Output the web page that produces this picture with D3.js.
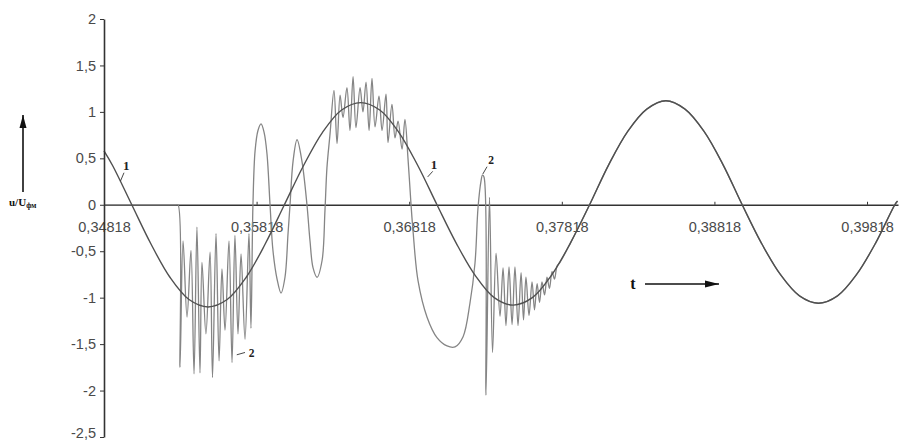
<!DOCTYPE html>
<html>
<head>
<meta charset="utf-8">
<script src="https://cdn.jsdelivr.net/npm/d3@7"></script>
<style>
  html, body { margin: 0; padding: 0; background: #ffffff; }
  svg { display: block; }
</style>
</head>
<body>
<svg id="chart" width="905" height="441"></svg>
<script>
// ---------------- data ----------------
const xTickValues = [0.34818, 0.35818, 0.36818, 0.37818, 0.38818, 0.39818];
const xTickLabels = ["0,34818", "0,35818", "0,36818", "0,37818", "0,38818", "0,39818"];
const yTickValues = [2, 1.5, 1, 0.5, 0, -0.5, -1, -1.5, -2, -2.5];
const yTickLabels = ["2", "1,5", "1", "0,5", "0", "-0,5", "-1", "-1,5", "-2", "-2,5"];

// curve 1 (sinusoid)
const curve1T = [0.34818, 0.34875, 0.35, 0.35125, 0.3525, 0.35375, 0.355, 0.35625, 0.3575, 0.35875,
  0.36, 0.36125, 0.3625, 0.36375, 0.365, 0.36625, 0.3675, 0.36875,
  0.37, 0.37125, 0.3725, 0.37375, 0.375, 0.37625, 0.3775, 0.37875,
  0.38, 0.38125, 0.3825, 0.38375, 0.385, 0.38625, 0.3875, 0.38875,
  0.39, 0.39125, 0.3925, 0.39375, 0.395, 0.39625, 0.3975, 0.39875, 0.4, 0.40018];
const curve1V = [0.58, 0.42, 0, -0.42, -0.78, -1.02, -1.10, -1.02, -0.78, -0.42,
  0, 0.42, 0.78, 1.02, 1.10, 1.02, 0.78, 0.42,
  0, -0.41, -0.76, -1.00, -1.08, -1.00, -0.76, -0.41,
  0, 0.43, 0.79, 1.03, 1.12, 1.03, 0.79, 0.43,
  0, -0.41, -0.75, -0.98, -1.06, -0.98, -0.75, -0.41, 0, 0.04];

// curve 2 (transient) until it merges with curve 1
const curve2T = [0.34818, 0.35290, 0.35303, 0.35316, 0.35336, 0.35362, 0.35388, 0.35408, 0.35427, 0.35447,
  0.35460, 0.35486, 0.35513, 0.35529, 0.35552, 0.35572, 0.35591, 0.35611, 0.35637, 0.35657,
  0.35676, 0.35696, 0.35716, 0.35742, 0.35768, 0.35781, 0.35794, 0.35808, 0.35827, 0.35847,
  0.35867, 0.35886, 0.35906, 0.35925, 0.35952, 0.35978, 0.36004, 0.36024, 0.36037, 0.36057,
  0.36083, 0.36115, 0.36148, 0.36168, 0.36188, 0.36214, 0.36247, 0.36266, 0.36279, 0.36299,
  0.36325, 0.36345, 0.36365, 0.36384, 0.36410, 0.36430, 0.36450, 0.36469, 0.36496, 0.36515,
  0.36535, 0.36555, 0.36574, 0.36594, 0.36620, 0.36640, 0.36666, 0.36679, 0.36705, 0.36725,
  0.36745, 0.36771, 0.36790, 0.36810, 0.36830, 0.36843, 0.36876, 0.36935, 0.37000, 0.37066,
  0.37118, 0.37171, 0.37216, 0.37249, 0.37269, 0.37289, 0.37298, 0.37308, 0.37321, 0.37344,
  0.37364, 0.37387, 0.37413, 0.37433, 0.37452, 0.37472, 0.37492, 0.37511, 0.37531, 0.37551,
  0.37567, 0.37583, 0.37603, 0.37623, 0.37639, 0.37656, 0.37672, 0.37688, 0.37705, 0.37721,
  0.37737, 0.37754, 0.37770, 0.37787, 0.37806];
const curve2V = [0, 0, 0, -1.75, -0.39, -1.21, -0.49, -1.82, -0.24, -1.81,
  -0.62, -1.39, -0.51, -1.86, -0.31, -1.68, -0.69, -1.35, -0.39, -1.70,
  -0.33, -1.39, -0.53, -1.45, -0.31, -1.33, 0.00, 0.58, 0.80, 0.87,
  0.78, 0.55, 0.00, -0.49, -0.80, -0.95, -0.78, -0.31, 0.00, 0.47,
  0.70, 0.47, 0.00, -0.39, -0.68, -0.78, -0.60, -0.06, 0.40, 0.76,
  1.23, 0.66, 1.18, 0.94, 1.26, 0.80, 1.38, 0.83, 1.26, 1.00,
  1.32, 0.80, 1.36, 0.84, 1.17, 0.80, 1.19, 0.67, 1.08, 0.72,
  0.90, 0.60, 0.92, 0.50, 0.00, -0.28, -0.82, -1.21, -1.43, -1.52,
  -1.53, -1.42, -1.06, -0.63, -0.03, 0.26, 0.32, 0.30, -2.05, 0.08,
  -1.59, -0.52, -1.20, -0.68, -1.30, -0.67, -1.29, -0.67, -1.30, -0.73,
  -1.24, -0.78, -1.19, -0.83, -1.13, -0.85, -1.05, -0.83, -0.97, -0.78,
  -0.90, -0.72, -0.80, -0.66, -0.62];

// ---------------- drawing ----------------
const svg = d3.select("#chart");
const x = d3.scaleLinear().domain([0.34818, 0.40021]).range([104, 898]);
const y = d3.scaleLinear().domain([-2.5, 2]).range([437, 19]);

const axisColor = "#333";
const textColor = "#4a4a4a";
const sansFont = "'Liberation Sans', Arial, sans-serif";
const serifFont = "'Liberation Serif', 'Times New Roman', serif";

// curves
const c1 = curve1T.map((t, i) => [t, curve1V[i]]);
const c2 = curve2T.map((t, i) => [t, curve2V[i]])
  .concat(c1.filter(d => d[0] > curve2T[curve2T.length - 1] + 0.0003));

const line = d3.line()
  .x(d => x(d[0]))
  .y(d => y(d[1]))
  .curve(d3.curveCatmullRom.alpha(0.5));

// X axis at v = 0
const gx = svg.append("g")
  .attr("transform", `translate(0,${y(0)})`)
  .call(d3.axisBottom(x)
    .tickValues(xTickValues)
    .tickFormat((d, i) => xTickLabels[i])
    .tickSizeInner(-3)
    .tickSizeOuter(0)
    .tickPadding(17));
gx.select(".domain").attr("stroke", axisColor).attr("stroke-width", 1.6);
gx.selectAll(".tick line").attr("stroke", axisColor).attr("stroke-width", 1);
gx.selectAll(".tick text")
  .attr("fill", textColor)
  .style("font-family", sansFont)
  .style("font-size", "14.5px");

// curve 2 (lighter)
svg.append("path")
  .datum(c2)
  .attr("fill", "none")
  .attr("stroke", "#858585")
  .attr("stroke-width", 1.3)
  .attr("stroke-linejoin", "round")
  .attr("d", line);

// curve 1 (darker)
svg.append("path")
  .datum(c1)
  .attr("fill", "none")
  .attr("stroke", "#505050")
  .attr("stroke-width", 1.4)
  .attr("d", line);

// Y axis
const gy = svg.append("g")
  .attr("transform", `translate(${x(0.34818)},0)`)
  .call(d3.axisLeft(y)
    .tickValues(yTickValues)
    .tickFormat((d, i) => yTickLabels[i])
    .tickSizeInner(4)
    .tickSizeOuter(0)
    .tickPadding(4));
gy.select(".domain").attr("stroke", axisColor).attr("stroke-width", 1.6);
gy.selectAll(".tick line").attr("stroke", axisColor).attr("stroke-width", 1);
gy.selectAll(".tick text")
  .attr("fill", textColor)
  .style("font-family", sansFont)
  .style("font-size", "14.5px")
  .attr("dy", d => d === -2.5 ? "0.02em" : "0.32em");

// curve labels with leader lines (data coordinates)
const ann = svg.append("g").attr("fill", "#222").attr("stroke", "#333");
function label(txt, tx, ty, size, lead) {
  ann.append("text")
    .attr("x", x(tx)).attr("y", y(ty))
    .attr("text-anchor", "middle")
    .attr("stroke", "none")
    .style("font-family", serifFont)
    .style("font-weight", "bold")
    .style("font-size", size + "px")
    .text(txt);
  if (lead) {
    ann.append("line")
      .attr("x1", x(lead[0])).attr("y1", y(lead[1]))
      .attr("x2", x(lead[2])).attr("y2", y(lead[3]))
      .attr("stroke-width", 0.9);
  }
}
label("1", 0.34964, 0.37, 13, [0.34949, 0.345, 0.34926, 0.255]);
label("1", 0.36981, 0.385, 13, [0.36972, 0.36, 0.36939, 0.30]);
label("2", 0.37354, 0.44, 11.5, [0.37328, 0.41, 0.37300, 0.33]);
label("2", 0.35785, -1.634, 11.5, [0.35688, -1.615, 0.35742, -1.59]);

// axis titles with arrows
const deco = svg.append("g");
function arrow(x1, y1, x2, y2, len, half) {
  deco.append("line")
    .attr("x1", x1).attr("y1", y1).attr("x2", x2).attr("y2", y2)
    .attr("stroke", "#111").attr("stroke-width", 1.6);
  const a = Math.atan2(y2 - y1, x2 - x1);
  const bx = x2 - len * Math.cos(a), by = y2 - len * Math.sin(a);
  const px = -Math.sin(a) * half, py = Math.cos(a) * half;
  deco.append("path")
    .attr("d", `M${x2},${y2}L${bx + px},${by + py}L${bx - px},${by - py}Z`)
    .attr("fill", "#111");
}
arrow(23, 192, 23, 115, 13, 3.5);
arrow(645, 284, 719, 284, 14, 3.5);

const yt = deco.append("text")
  .attr("x", 9).attr("y", 206)
  .attr("fill", "#111")
  .style("font-family", serifFont)
  .style("font-weight", "bold")
  .style("font-size", "11px");
yt.append("tspan").text("u/U");
yt.append("tspan").attr("dy", 2).style("font-size", "7.5px").text("фм");

deco.append("text")
  .attr("x", 633).attr("y", 289)
  .attr("text-anchor", "middle")
  .attr("fill", "#111")
  .style("font-family", serifFont)
  .style("font-weight", "bold")
  .style("font-size", "16px")
  .text("t");
</script>
</body>
</html>
